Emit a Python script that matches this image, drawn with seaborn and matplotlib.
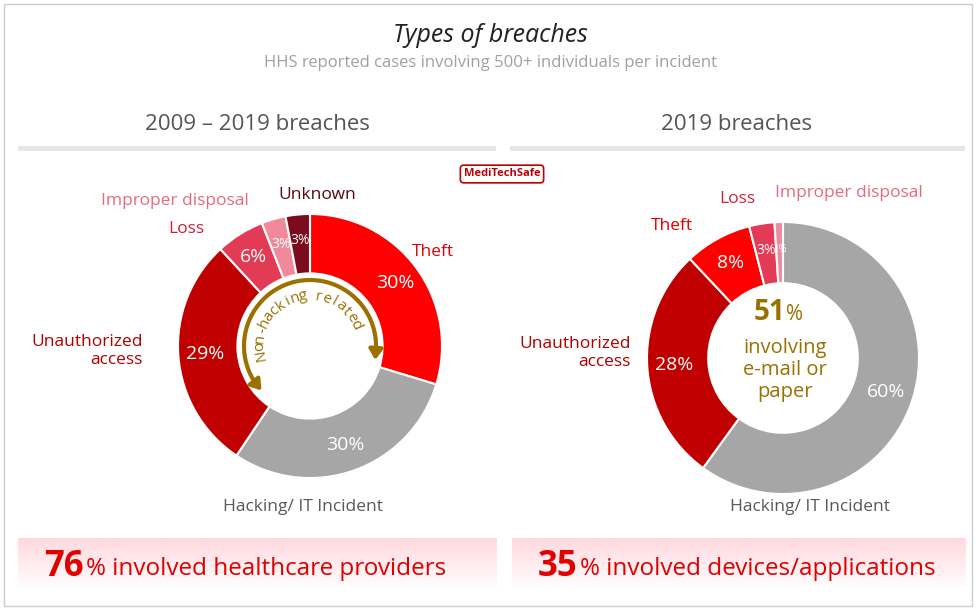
import matplotlib
matplotlib.use("Agg")
import matplotlib.pyplot as plt
import seaborn as sns
import numpy as np
from matplotlib.patches import Rectangle

sns.set_style("white")
plt.rcParams["font.family"] = "Open Sans"

left_cats = ["Theft", "Hacking/ IT Incident", "Unauthorized\naccess", "Loss", "Improper disposal", "Unknown"]
left_vals = [30, 30, 29, 6, 3, 3]
right_cats = ["Hacking/ IT Incident", "Unauthorized\naccess", "Theft", "Loss", "Improper disposal"]
right_vals = [60, 28, 8, 3, 1]
colors = {"Theft": "#FF0000", "Hacking/ IT Incident": "#A6A6A6", "Unauthorized\naccess": "#C00000",
          "Loss": "#E33A55", "Improper disposal": "#F08A9A", "Unknown": "#7A0C1E"}
label_colors = {"Theft": "#E00000", "Hacking/ IT Incident": "#595959", "Unauthorized\naccess": "#B00000",
                "Loss": "#D02040", "Improper disposal": "#E86A80", "Unknown": "#5A0A14"}

W, H = 980, 614
fig = plt.figure(figsize=(9.8, 6.14), dpi=100)
bg = fig.add_axes([0, 0, 1, 1]); bg.set_xlim(0, W); bg.set_ylim(H, 0); bg.axis("off")
bg.add_patch(Rectangle((4, 4), W - 12, H - 12, fill=False, ec="#CCCCCC", lw=1))
bg.text(W / 2, 35, "Types of breaches", ha="center", va="center", fontsize=18, style="italic", color="#222")
bg.text(W / 2, 63, "HHS reported cases involving 500+ individuals per incident", ha="center", va="center", fontsize=12, color="#A0A0A0")
bg.text(257, 124, "2009 – 2019 breaches", ha="center", va="center", fontsize=16, color="#555")
bg.text(737, 124, "2019 breaches", ha="center", va="center", fontsize=16, color="#555")
bg.add_patch(Rectangle((18, 146), 478, 5, color="#E6E6E6", lw=0))
bg.add_patch(Rectangle((510, 146), 455, 5, color="#E6E6E6", lw=0))
for x0, x1, big, rest in [(18, 496, "76", "% involved healthcare providers"), (512, 965, "35", "% involved devices/applications")]:
    grad = np.linspace(1, 0, 50).reshape(-1, 1)
    bg.imshow(np.dstack([np.ones_like(grad), 0.85 + 0.15 * (1 - grad), 0.87 + 0.13 * (1 - grad)]),
              extent=[x0, x1, 590, 538], aspect="auto", zorder=1)
    t = bg.text(x0 + 26, 567, big, ha="left", va="center", fontsize=25, fontweight="bold", color="#E00000", zorder=2)
    fig.canvas.draw()
    bb = t.get_window_extent()
    bg.text(bb.x1 + 2, 569, rest, ha="left", va="center", fontsize=17.5, color="#E00000", zorder=2)
bg.set_xlim(0, W); bg.set_ylim(H, 0)
bg.text(502, 174, "MediTechSafe", ha="center", va="center", fontsize=8, fontweight="bold", color="#C00000",
        bbox=dict(boxstyle="round,pad=0.3", fc="white", ec="#C00000", lw=1.2))

def donut(cx, cy, r, cats, vals):
    size = 2.2 * r
    ax = fig.add_axes([(cx - size / 2) / W, 1 - (cy + size / 2) / H, size / W, size / H])
    ax.pie(vals, colors=[colors[c] for c in cats], startangle=90, counterclock=False,
           radius=1.0, wedgeprops=dict(width=0.45, ec="white", lw=1.5))
    ax.set_xlim(-1.1, 1.1); ax.set_ylim(-1.1, 1.1); ax.set_aspect("equal")
    tot = sum(vals); a = 90
    for c, v in zip(cats, vals):
        mid = np.deg2rad(a - 360 * v / tot / 2); a -= 360 * v / tot
        fs = 14 if v > 5 else (10 if v > 1 else 7)
        ax.text(0.8 * np.cos(mid), 0.8 * np.sin(mid), f"{v}%", ha="center", va="center",
                fontsize=fs, color="white")
    return ax

axl = donut(310, 346, 132, left_cats, left_vals)
axr = donut(783, 358, 136, right_cats, right_vals)

for (x, y, c, ha) in [(433, 252, "Theft", "center"), (303, 507, "Hacking/ IT Incident", "center"),
                      (143, 351, "Unauthorized\naccess", "right"), (186, 229, "Loss", "center"),
                      (175, 201, "Improper disposal", "center"), (317, 195, "Unknown", "center")]:
    bg.text(x, y, c, ha=ha, va="center", fontsize=12.5, color=label_colors[c])
for (x, y, c, ha) in [(810, 507, "Hacking/ IT Incident", "center"), (631, 353, "Unauthorized\naccess", "right"),
                      (672, 226, "Theft", "center"), (737, 199, "Loss", "center"),
                      (849, 193, "Improper disposal", "center")]:
    bg.text(x, y, c, ha=ha, va="center", fontsize=12.5, color=label_colors[c])

bg.text(785, 312, "51", ha="right", va="center", fontsize=20, fontweight="bold", color="#9A7000")
bg.text(786, 314, "%", ha="left", va="center", fontsize=15, color="#9A7000")
bg.text(785, 370, "involving\ne-mail or\npaper", ha="center", va="center", fontsize=14.5, color="#9A7000", linespacing=1.1)

gold = "#9A7000"
th = np.deg2rad(np.linspace(215, -10, 80))
rr = 0.5
axl.plot(rr * np.cos(th[:-3]), rr * np.sin(th[:-3]), color=gold, lw=3, solid_capstyle="butt")
axl.annotate("", xy=(rr * np.cos(th[-1]), rr * np.sin(th[-1]) - 0.04), xytext=(rr * np.cos(th[-4]), rr * np.sin(th[-4])),
             arrowprops=dict(arrowstyle="-|>,head_width=0.4,head_length=0.6", color=gold, lw=3))
axl.annotate("", xy=(rr * np.cos(np.deg2rad(225)), rr * np.sin(np.deg2rad(225))),
             xytext=(rr * np.cos(np.deg2rad(213)), rr * np.sin(np.deg2rad(213))),
             arrowprops=dict(arrowstyle="-|>,head_width=0.4,head_length=0.6", color=gold, lw=3))
txt = "Non-hacking related"
angs = np.linspace(190, 25, len(txt))
for ch, ag in zip(txt, angs):
    t = np.deg2rad(ag)
    axl.text(0.38 * np.cos(t), 0.38 * np.sin(t), ch, ha="center", va="center", fontsize=11,
             color=gold, rotation=ag - 90)

fig.savefig("out.png", dpi=100)
